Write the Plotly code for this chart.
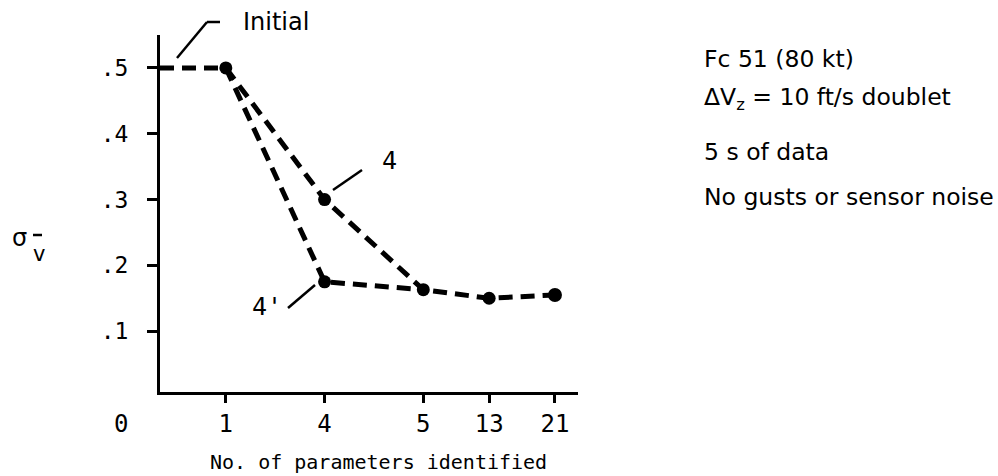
import plotly.graph_objects as go

# Parameter-count positions along the axis (non-uniform spacing) and their labels
x_pos = [0, 1, 2.5, 4, 5, 6]
x_labels = ["", "1", "4", "5", "13", "21"]

# Identification error with 4 parameters in the first stage
sigma_4 = [0.50, 0.50, 0.30, 0.163, 0.150, 0.155]
# Alternative path with 4' parameters
x_4p = [1, 2.5, 4]
sigma_4p = [0.50, 0.175, 0.163]

y_ticks = [0.1, 0.2, 0.3, 0.4, 0.5]
y_ticktext = [".1", ".2", ".3", ".4", ".5"]

SANS = "DejaVu Sans"
MONO = "DejaVu Sans Mono"
INK = "#000000"

fig = go.Figure()

line_style = dict(color=INK, width=5, dash="14px,8px")

fig.add_trace(go.Scatter(
    x=x_pos, y=sigma_4, mode="lines+markers",
    line=line_style,
    marker=dict(size=[0, 13, 13, 13, 13, 14], color=INK, opacity=1,
                line=dict(width=0)),
    showlegend=False, hoverinfo="skip",
))
fig.add_trace(go.Scatter(
    x=x_4p, y=sigma_4p, mode="lines+markers",
    line=line_style,
    marker=dict(size=[0, 13, 0], color=INK, opacity=1, line=dict(width=0)),
    showlegend=False, hoverinfo="skip",
))

# plot area in pixels: x 160..578, y 35..392
L, R, T, B = 160, 578, 35, 392
W, H = 998, 476


def px(x):
    return (x - L) / (R - L)


def py(y):
    return (B - y) / (B - T)


shapes = []


def seg(x0, y0, x1, y1, w=2.5):
    shapes.append(dict(type="line", xref="paper", yref="paper",
                       x0=px(x0), y0=py(y0), x1=px(x1), y1=py(y1),
                       line=dict(color=INK, width=w)))


# leader lines for the labels
seg(177, 58, 207, 22)
seg(207, 22, 220, 22)
seg(333, 190, 362, 170)
seg(288, 308, 315, 285)
# bar over the subscript v
seg(33, 235, 42, 235, 2.5)

fig.update_layout(shapes=shapes)

annotations = []


def txt(x, y, text, size=20, family=SANS, xanchor="left"):
    annotations.append(dict(xref="paper", yref="paper", x=px(x), y=py(y),
                            text=text, showarrow=False, xanchor=xanchor,
                            yanchor="middle",
                            font=dict(family=family, size=size, color=INK)))


txt(241, 22, "Initial", 24)
txt(380, 160, "4", 25, MONO)
txt(250, 306, "4'", 25, MONO)
txt(121, 424, "0", 24, MONO, "center")
txt(378, 462, "No. of parameters identified", 20, MONO, "center")
txt(10, 238, "σ", 24)
txt(31, 254, "v", 21)

txt(702, 59, "Fc 51 (80 kt)", 23.5)
txt(702, 98, "ΔV<sub>z</sub> = 10 ft/s doublet", 23.5)
txt(702, 152, "5 s of data", 23.5)
txt(702, 197, "No gusts or sensor noise", 23.5)

fig.update_layout(annotations=annotations)

fig.update_xaxes(
    range=[0, 6.35], tickvals=x_pos[1:], ticktext=x_labels[1:],
    showgrid=False, zeroline=False, showline=True, linecolor=INK, linewidth=3,
    ticks="outside", ticklen=8, tickwidth=3, tickcolor=INK,
    tickfont=dict(family=MONO, size=24, color=INK),
)
fig.update_yaxes(
    range=[0.0076, 0.55], tickvals=y_ticks, ticktext=y_ticktext,
    showgrid=False, zeroline=False, showline=True, linecolor=INK, linewidth=3,
    ticks="outside", ticklen=10, tickwidth=3, tickcolor=INK,
    tickfont=dict(family=MONO, size=23, color=INK),
    ticklabelstandoff=14,
)

fig.update_layout(
    width=W, height=H,
    margin=dict(l=L, r=W - R, t=T, b=H - B),
    plot_bgcolor="white", paper_bgcolor="white",
)

fig.write_html("out.html")
